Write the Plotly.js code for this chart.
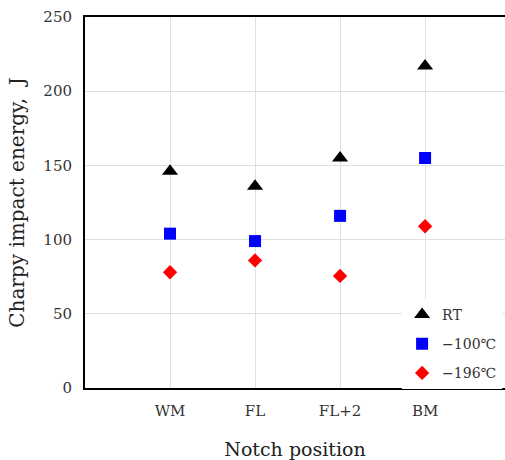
<!DOCTYPE html>
<html><head><meta charset="utf-8">
<script src="https://cdn.plot.ly/plotly-3.0.1.min.js"></script>
<style>html,body{margin:0;padding:0;background:#fff;overflow:hidden}#chart{overflow:hidden}</style>
</head><body>
<div id="chart" style="width:505px;height:460px"></div>
<script>
const categories = ["WM", "FL", "FL+2", "BM"];
const catPos = [1, 2, 3, 4];
const rtValues = [146, 136, 155, 217];
const m100Values = [104, 99, 116, 155];
const m196Values = [78, 86, 75.5, 109];
const seriesNames = ["RT", "\u2212100\u2103", "\u2212196\u2103"];

const font = "DejaVu Serif, Liberation Serif, serif";
const traces = [
  {x: catPos, y: rtValues, name: seriesNames[0], legendgroup: "a", mode: "markers", type: "scatter",
   marker: {symbol: "triangle-up", size: 14, color: "#000000"}},
  {x: catPos, y: m100Values, name: seriesNames[1], legendgroup: "b", mode: "markers", type: "scatter",
   marker: {symbol: "square", size: 12, color: "#0000ff"}},
  {x: catPos, y: m196Values, name: seriesNames[2], legendgroup: "c", mode: "markers", type: "scatter",
   marker: {symbol: "diamond", size: 11, color: "#ff0000"}}
];
const layout = {
  width: 560, height: 460,
  margin: {l: 85, r: 55, t: 17, b: 72},
  paper_bgcolor: "#fff", plot_bgcolor: "#fff",
  font: {family: font, color: "#333"},
  showlegend: true,
  legend: {x: 0.755, y: 0.24, xanchor: "left", yanchor: "top", bgcolor: "rgba(255,255,255,1)",
           font: {size: 14, color: "#333", family: font}, tracegroupgap: 8, itemsizing: "trace"},
  xaxis: {range: [0, 4.94], tickvals: catPos, ticktext: categories, showgrid: true,
          gridcolor: "#e0e0e0", zeroline: false, showline: true, linecolor: "#000", linewidth: 2,
          mirror: true, ticks: "", tickfont: {size: 15, color: "#333"}, ticklabelstandoff: 8,
          title: {text: "Notch position", font: {size: 19, color: "#222"}, standoff: 30}},
  yaxis: {range: [0, 250], tickvals: [0, 50, 100, 150, 200, 250], showgrid: true,
          gridcolor: "#e0e0e0", zeroline: false, showline: true, linecolor: "#000", linewidth: 2,
          ticks: "", tickfont: {size: 15, color: "#333"}, ticklabelstandoff: 8,
          title: {text: "Charpy impact energy,\u00A0\u00A0J", font: {size: 20, color: "#222"}, standoff: 13}}
};
Plotly.newPlot("chart", traces, layout, {displayModeBar: false, staticPlot: true});
</script>
</body></html>
